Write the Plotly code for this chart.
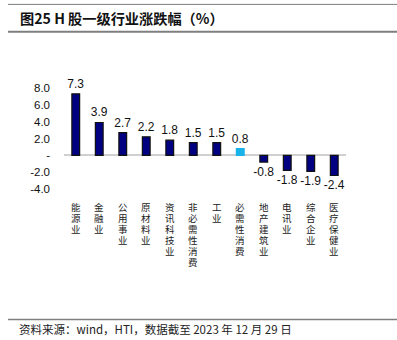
import plotly.graph_objects as go

categories = ["能源业", "金融业", "公用事业", "原材料业", "资讯科技业", "非必需性消费",
              "工业", "必需性消费", "地产建筑业", "电讯业", "综合企业", "医疗保健业"]
values = [7.3, 3.9, 2.7, 2.2, 1.8, 1.5, 1.5, 0.8, -0.8, -1.8, -1.9, -2.4]
highlight = "必需性消费"
ytick_vals = [-4, -2, 0, 2, 4, 6, 8]
ytick_text = ["-4.0", "-2.0", "-", "2.0", "4.0", "6.0", "8.0"]

navy = "#000080"
light_blue = "#1AB2EA"
colors = [light_blue if c == highlight else navy for c in categories]
line_colors = [light_blue if c == highlight else "#111111" for c in categories]

fig = go.Figure()
fig.add_trace(go.Bar(
    x=categories, y=values,
    marker=dict(color=colors, line=dict(color=line_colors, width=1.2)),
    width=0.33,
    text=[f"{v:.1f}" for v in values],
    textposition="outside",
    constraintext="none",
    textfont=dict(family="Liberation Sans, Arial", size=12, color="#111111"),
    cliponaxis=False,
))

W, H = 397, 340
left, right = 64, 346
top, bottom = 87.5, 194

fig.update_layout(
    width=W, height=H,
    margin=dict(l=left, r=W - right, t=top, b=H - bottom),
    paper_bgcolor="white", plot_bgcolor="white",
    showlegend=False,
    bargap=0.66,
    font=dict(family="Liberation Sans, Arial", size=11, color="#111111"),
)
fig.update_xaxes(
    showticklabels=False,
    showgrid=False, showline=False, zeroline=False, ticks="",
)
fig.update_yaxes(
    range=[-4.6, 8],
    tickvals=ytick_vals, ticktext=ytick_text,
    showgrid=False, showline=False,
    zeroline=True, zerolinecolor="#D0D0D0", zerolinewidth=1.5,
    ticks="", ticklabelstandoff=13,
    tickfont=dict(family="Liberation Sans, Arial", size=11.5, color="#111111"),
)

# vertical category labels: one character per line
label_top = 201
step = 11
for cat in categories:
    for i, ch in enumerate(cat):
        fig.add_annotation(text=ch, x=cat, xref="x", yref="paper", y=0,
                           yshift=-(label_top - bottom) - i * step,
                           xanchor="center", yanchor="top", showarrow=False,
                           borderpad=0,
                           font=dict(family="Liberation Sans, Noto Sans CJK SC", size=9.5,
                                     color="#222222"))

# header / footer decoration lines
def py(pix):
    return (bottom - pix) / (bottom - top)

x0p = (8 - left) / (right - left)
x1p = (W - left) / (right - left)
for yy, wd in [(3.5, 1), (31, 2), (320, 1.5)]:
    fig.add_shape(type="line", xref="paper", yref="paper",
                  x0=x0p, x1=x1p, y0=py(yy), y1=py(yy),
                  line=dict(color="#7F7F7F", width=wd))

fig.add_annotation(text="<b>图25 H 股一级行业涨跌幅（%）</b>", xref="paper", yref="paper",
                   x=(18 - left) / (right - left), y=py(17),
                   xanchor="left", yanchor="middle", showarrow=False,
                   font=dict(family="Noto Sans CJK SC", size=14.2, color="#111111"))
fig.add_annotation(text="资料来源：wind，HTI，数据截至 2023 年 12 月 29 日", xref="paper", yref="paper",
                   x=(17 - left) / (right - left), y=py(330),
                   xanchor="left", yanchor="middle", showarrow=False,
                   font=dict(family="Noto Sans CJK SC", size=11.5, color="#222222"))

fig.write_html("out.html")
